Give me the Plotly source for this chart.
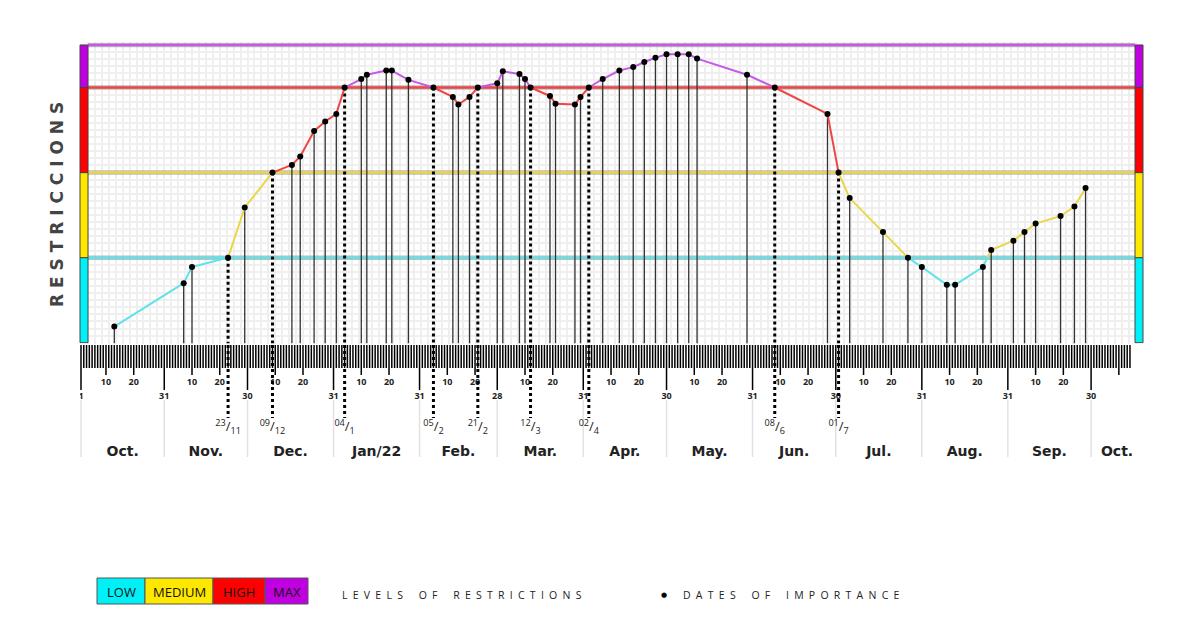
import plotly.graph_objects as go
import pandas as pd

W, H = 1200, 640

# ---------------- data ----------------
point_dates = [
    "2021-10-13", "2021-11-07", "2021-11-10", "2021-11-23", "2021-11-29",
    "2021-12-09", "2021-12-16", "2021-12-19", "2021-12-24", "2021-12-28",
    "2022-01-01", "2022-01-04", "2022-01-10", "2022-01-12", "2022-01-19",
    "2022-01-21", "2022-01-27", "2022-02-05", "2022-02-12", "2022-02-14",
    "2022-02-18", "2022-02-21", "2022-02-28", "2022-03-02", "2022-03-08",
    "2022-03-10", "2022-03-12", "2022-03-19", "2022-03-21", "2022-03-28",
    "2022-03-30", "2022-04-02", "2022-04-07", "2022-04-13", "2022-04-18",
    "2022-04-22", "2022-04-26", "2022-04-30", "2022-05-04", "2022-05-08",
    "2022-05-11", "2022-05-29", "2022-06-08", "2022-06-27", "2022-07-01",
    "2022-07-05", "2022-07-17", "2022-07-26", "2022-07-31", "2022-08-09",
    "2022-08-12", "2022-08-22", "2022-08-25", "2022-09-02", "2022-09-06",
    "2022-09-10", "2022-09-19", "2022-09-24", "2022-09-28",
]
point_levels = [
    0.19, 0.70, 0.89, 1.00, 1.59,
    2.00, 2.09, 2.19, 2.49, 2.60,
    2.69, 3.00, 3.10, 3.15, 3.20,
    3.20, 3.09, 3.00, 2.89, 2.80,
    2.89, 3.00, 3.05, 3.19, 3.16,
    3.10, 3.00, 2.90, 2.81, 2.80,
    2.89, 3.00, 3.10, 3.20, 3.24,
    3.30, 3.35, 3.39, 3.39, 3.39,
    3.34, 3.15, 3.00, 2.69, 2.00,
    1.70, 1.30, 1.00, 0.89, 0.68,
    0.68, 0.89, 1.09, 1.20, 1.30,
    1.40, 1.49, 1.60, 1.82,
]
key_dates = ["2021-11-23", "2021-12-09", "2022-01-04", "2022-02-05", "2022-02-21",
             "2022-03-12", "2022-04-02", "2022-06-08", "2022-07-01"]
key_labels = ["23/11", "09/12", "04/1", "05/2", "21/2", "12/3", "02/4", "08/6", "01/7"]

level_names = ["LOW", "MEDIUM", "HIGH", "MAX"]
level_edges = [0, 1, 2, 3, 3.5]
band_fill = ["#00f0f8", "#ffe800", "#ff0000", "#c000e0"]
band_line = ["#5fe2ea", "#ebd64a", "#ee4646", "#c65ae6"]

month_ends = ["2021-10-31", "2021-11-30", "2021-12-31", "2022-01-31", "2022-02-28",
              "2022-03-31", "2022-04-30", "2022-05-31", "2022-06-30", "2022-07-31",
              "2022-08-31", "2022-09-30"]
month_names = ["Oct.", "Nov.", "Dec.", "Jan/22", "Feb.", "Mar.", "Apr.", "May.",
               "Jun.", "Jul.", "Aug.", "Sep.", "Oct."]
ruler_start, ruler_end, label_end = "2021-10-01", "2022-10-14", "2022-09-30"

# ---------------- geometry (screen px, page body has 8px margin) ----------------
OFF = 8
SCR_L, SCR_R = 80, 1143
ML, MR = SCR_L - OFF, W - (SCR_R - OFF)
PW = W - ML - MR
DAY_PX = 2.775
origin = pd.Timestamp("2021-10-01")
def date_at(px):
    return origin + pd.Timedelta(days=(px - 81) / DAY_PX)
x_lo, x_hi = date_at(SCR_L), date_at(SCR_R)

Y0PX, KPX = 342.7, 85.06
ymin, ymax = -0.01, 3.53
def pix(v):
    return Y0PX - v * KPX
y_dom = [1 - (pix(ymin) - OFF) / H, 1 - (pix(ymax) - OFF) / H]
R_TOP, R_BOT = 345, 465
y2_dom = [1 - (R_BOT - OFF) / H, 1 - (R_TOP - OFF) / H]
Y2MAX = R_BOT - R_TOP

def px_x(px):
    return (px - OFF - ML) / PW
def px_y(py):
    return 1 - (py - OFF) / H

dates = pd.to_datetime(point_dates)
keys = set(pd.to_datetime(key_dates))

fig = go.Figure()

# ---------------- level lines (under data) ----------------
gx = [date_at(88), date_at(1135)]
for b, L in enumerate(level_edges[1:]):
    fig.add_trace(go.Scatter(x=gx, y=[L, L], mode="lines",
                             line=dict(color="rgba(130,130,130,0.5)", width=4.5), hoverinfo="skip"))
    fig.add_trace(go.Scatter(x=gx, y=[L, L], mode="lines",
                             line=dict(color=band_line[b], width=2.5), hoverinfo="skip"))

# ---------------- ruler ----------------
me_set = set(pd.to_datetime(month_ends)) | {origin}
lab_limit = pd.Timestamp(label_end)
rx, ry = [], []
lab_x, lab_y, lab_t = [], [], []
for d in pd.date_range(ruler_start, ruler_end):
    if d in me_set:
        ln, ly = 45, 52
    elif d.day in (10, 20):
        ln, ly = 30, 38
    else:
        ln, ly = 23, None
    if ly is not None and d <= lab_limit:
        lab_x.append(d); lab_y.append(ly); lab_t.append(str(d.day))
    rx += [d, d, None]
    ry += [0, ln, None]
fig.add_trace(go.Scatter(x=rx, y=ry, mode="lines", line=dict(color="#000", width=1.5),
                         xaxis="x2", yaxis="y2", hoverinfo="skip"))
fig.add_trace(go.Scatter(x=lab_x, y=lab_y, mode="text", text=lab_t,
                         textfont=dict(family="Open Sans", size=9, color="#222", weight="bold"),
                         xaxis="x2", yaxis="y2", hoverinfo="skip"))

# month separators and names
sep_dates = [origin] + list(pd.to_datetime(month_ends))
sx, sy = [], []
for d in sep_dates:
    sx += [d, d, None]
    sy += [55, 112, None]
fig.add_trace(go.Scatter(x=sx, y=sy, mode="lines", line=dict(color="#e2e2e2", width=1.5),
                         xaxis="x2", yaxis="y2", hoverinfo="skip"))
bounds = sep_dates + [x_hi]
mx = [bounds[i] + (bounds[i + 1] - bounds[i]) / 2 for i in range(len(month_names))]
fig.add_trace(go.Scatter(x=mx, y=[107] * len(mx), mode="text", text=month_names,
                         textfont=dict(family="DejaVu Sans", size=14, color="#222", weight="bold"),
                         xaxis="x2", yaxis="y2", hoverinfo="skip"))

# ---------------- stems ----------------
stx, sty, dkx, dky, dkx2, dky2 = [], [], [], [], [], []
for d, v in zip(dates, point_levels):
    if d in keys:
        dkx += [d, d, None]; dky += [v, ymin, None]
        dkx2 += [d, d, None]; dky2 += [0, 73, None]
    else:
        stx += [d, d, None]; sty += [v, ymin, None]
fig.add_trace(go.Scatter(x=stx, y=sty, mode="lines", line=dict(color="#333", width=1.3),
                         hoverinfo="skip"))
fig.add_trace(go.Scatter(x=dkx, y=dky, mode="lines", line=dict(color="#000", width=3, dash="dot"),
                         hoverinfo="skip"))
fig.add_trace(go.Scatter(x=dkx2, y=dky2, mode="lines", line=dict(color="#000", width=3, dash="dot"),
                         xaxis="x2", yaxis="y2", hoverinfo="skip"))
kl_t = ["<sup>%s</sup>/<sub>%s</sub>" % tuple(s.split("/")) for s in key_labels]
fig.add_trace(go.Scatter(x=pd.to_datetime(key_dates), y=[83] * len(key_dates), mode="text",
                         text=kl_t, textfont=dict(family="Open Sans", size=13, color="#222"),
                         xaxis="x2", yaxis="y2", hoverinfo="skip"))

# ---------------- level line (colored by band) ----------------
def band_of(v):
    for i in range(4):
        if v < level_edges[i + 1] - 1e-9:
            return i
    return 3

seg = {i: ([], []) for i in range(4)}
for i in range(len(dates) - 1):
    t0, t1 = dates[i], dates[i + 1]
    v0, v1 = point_levels[i], point_levels[i + 1]
    cuts = [(t0, v0)]
    lo, hi = min(v0, v1), max(v0, v1)
    crossings = [L for L in (1, 2, 3) if lo < L < hi]
    crossings.sort(reverse=(v1 < v0))
    for L in crossings:
        f = (L - v0) / (v1 - v0)
        cuts.append((t0 + (t1 - t0) * f, L))
    cuts.append((t1, v1))
    for (ta, va), (tb, vb) in zip(cuts[:-1], cuts[1:]):
        b = band_of((va + vb) / 2)
        seg[b][0].extend([ta, tb, None])
        seg[b][1].extend([va, vb, None])
for b in range(4):
    fig.add_trace(go.Scatter(x=seg[b][0], y=seg[b][1], mode="lines",
                             line=dict(color=band_line[b], width=2), hoverinfo="skip"))
fig.add_trace(go.Scatter(x=dates, y=point_levels, mode="markers",
                         marker=dict(color="#000", size=6), hoverinfo="skip"))

# ---------------- shapes ----------------
shapes = []
bw = 8 / PW
for b in range(4):
    for x0, x1 in ((0, bw), (1 - bw, 1)):
        shapes.append(dict(type="rect", xref="paper", yref="y", x0=x0, x1=x1,
                           y0=level_edges[b], y1=level_edges[b + 1],
                           fillcolor=band_fill[b], line=dict(color="#444", width=1), layer="above"))

# legend boxes
box_px = [97, 145, 213, 265, 308]
annotations = []
for b in range(4):
    shapes.append(dict(type="rect", xref="paper", yref="paper",
                       x0=px_x(box_px[b]), x1=px_x(box_px[b + 1]),
                       y0=px_y(604), y1=px_y(578), fillcolor=band_fill[b],
                       line=dict(color="#555", width=1)))
    annotations.append(dict(xref="paper", yref="paper", showarrow=False,
                            xanchor="center", yanchor="middle",
                            x=px_x((box_px[b] + box_px[b + 1]) / 2), y=px_y(591.5),
                            text=level_names[b],
                            font=dict(family="Open Sans", size=13, color="#111")))

def spaced(s, gap="\u2002", wgap="\u2002\u2002\u2002"):
    return wgap.join(gap.join(list(w)) for w in s.split(" "))

annotations.append(dict(xref="paper", yref="paper", showarrow=False, xanchor="left",
                        yanchor="middle", x=px_x(340), y=px_y(595),
                        text=spaced("LEVELS OF RESTRICTIONS"),
                        font=dict(family="Open Sans", size=10.5, color="#222")))
annotations.append(dict(xref="paper", yref="paper", showarrow=False, xanchor="center",
                        yanchor="middle", x=px_x(664), y=px_y(595), text="\u25cf",
                        font=dict(family="DejaVu Sans", size=7, color="#000")))
annotations.append(dict(xref="paper", yref="paper", showarrow=False, xanchor="left",
                        yanchor="middle", x=px_x(681), y=px_y(595),
                        text=spaced("DATES OF IMPORTANCE"),
                        font=dict(family="Open Sans", size=10.5, color="#222")))
annotations.append(dict(xref="paper", yref="paper", showarrow=False, textangle=-90,
                        xanchor="center", yanchor="middle",
                        x=px_x(57), y=px_y(205), text=" ".join(list("RESTRICCIONS")),
                        font=dict(family="DejaVu Sans", size=17, color="#444", weight="bold")))

fig.update_layout(
    width=W, height=H, margin=dict(l=ML, r=MR, t=0, b=0),
    paper_bgcolor="white", plot_bgcolor="white", showlegend=False,
    shapes=shapes, annotations=annotations,
    xaxis=dict(type="date", domain=[0, 1], range=[x_lo, x_hi], anchor="y",
               showgrid=True, gridcolor="#efefef", gridwidth=2,
               tick0="2021-10-01", dtick=2.5 * 86400000,
               showticklabels=False, ticks="", zeroline=False, showline=False),
    xaxis2=dict(type="date", matches="x", anchor="y2", showgrid=False,
                showticklabels=False, ticks="", zeroline=False, showline=False),
    yaxis=dict(domain=y_dom, range=[ymin, ymax], showgrid=True, gridcolor="#efefef",
               gridwidth=2, tick0=0, dtick=1 / 12, showticklabels=False, ticks="",
               zeroline=False, showline=False),
    yaxis2=dict(domain=y2_dom, range=[Y2MAX, 0], showgrid=False, showticklabels=False,
                ticks="", zeroline=False, showline=False),
)

fig.write_html("out.html")
